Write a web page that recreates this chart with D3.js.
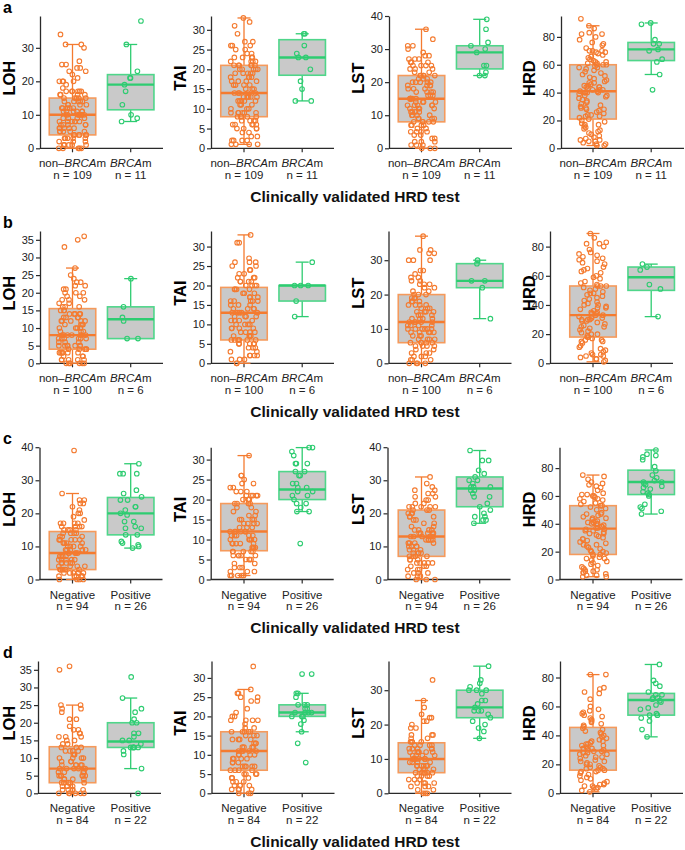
<!DOCTYPE html>
<html><head><meta charset="utf-8">
<script src="https://cdn.jsdelivr.net/npm/d3@7"></script>
<style>
body{margin:0;background:#fff;}
svg{display:block;font-family:"Liberation Sans",Arial,sans-serif;}
</style></head>
<body><svg id="chart" width="685" height="850"></svg>
<script>
// ---------- DATA ----------
const rowLetters = ["a","b","c","d"];
const metrics = ["LOH","TAI","LST","HRD"];
const groupsBRCA = ["non–BRCAm","BRCAm"];
const groupsTest = ["Negative","Positive"];
const nCounts = [[109,11],[100,6],[94,26],[84,22]];
const rowTitle = "Clinically validated HRD test";

// y axis maxima and tick steps per row (LOH, TAI, LST, HRD)
const yMax_a = [39.5,33.5,40,95],  yStep_a = [10,5,10,20];
const yMax_b = [37.5,34,38.5,90.7], yStep_b = [5,5,10,20];
const yMax_c = [40,33.1,40,95],    yStep_c = [10,5,10,20];
const yMax_d = [37.5,34.4,38.5,91.4], yStep_d = [5,5,10,20];

// box stats [q1, median, q3, whiskerLow, whiskerHigh] : [orange, green]
const box_a = [[[4,10,15,0,31],[11.5,19,22,8,31]],[[8,14,21,1,33],[18.5,23,27.5,12,29]],[[8,15,22,0,36],[24,29,31,22,39]],[[21,41,60,2,88],[63,71,76,53,90]]];
const box_b = [[[4,8,15.5,0,27],[7,12.5,16,7,24]],[[6,13,19.5,0,33],[16,20,20,12,26]],[[6,12,20,0,37],[22,24,29,13,30]],[[18,33,53,1,89],[50,59,66,32,68]]];
const box_c = [[[3,8,14.5,0,26],[13.5,20,24.8,9.5,35]],[[7.2,12,19,1,31],[20,22.5,27,17,33]],[[7,13,21,0,31],[22,27.5,31,17,39]],[[18,36.5,53,2,75],[61,70,78.5,47,93]]];
const box_d = [[[3,7,13.2,0,25],[13,14.7,20,7,27]],[[6,11,16,0,27],[20,21,23,16,26]],[[6,10,14.7,0,27],[22,25,30,16,37]],[[16,29.5,45.5,1,82],[54,64.5,69,39,89]]];

// row a points
const LOH_a_o = [0,0,0,0,0,1,1,1,1,1,2,2,2,3,3,3,3,3,4,4,4,4,4,4,5,5,5,5,5,6,6,6,6,6,7,7,7,7,7,8,8,8,8,8,8,9,9,9,9,10,10,10,10,10,10,11,11,11,11,11,11,12,12,12,12,12,13,13,13,13,14,14,14,14,14,15,15,15,15,15,16,16,16,16,17,17,17,17,17,17,18,19,20,20,20,20,21,22,23,23,24,24,25,25,26,30,31,31,34];
const LOH_a_g = [8,9,10,13,17,19,21,21,23,31,38];
const TAI_a_o = [1,1,1,1,2,2,2,2,3,3,4,4,5,5,5,5,6,6,6,6,6,7,7,7,7,8,8,8,8,8,9,9,9,9,9,9,10,10,10,11,11,11,12,12,12,12,12,13,13,13,13,13,14,14,14,14,14,15,15,15,16,16,16,16,17,17,17,17,18,18,18,18,19,19,19,19,19,20,20,20,20,20,21,21,21,21,21,21,22,22,22,22,23,23,23,23,24,24,25,25,26,26,26,27,27,29,31,32,33];
const TAI_a_g = [12,12,15,17,20,23,23,24,26,29,29];
const LST_a_o = [0,0,0,1,1,1,2,2,2,3,3,4,4,5,5,5,5,6,6,7,7,7,7,8,8,8,8,8,9,9,9,9,10,10,10,10,11,11,11,11,12,12,12,12,13,13,13,13,13,14,14,14,14,15,15,15,15,15,15,16,16,16,17,17,17,17,18,18,18,19,19,19,19,20,20,20,20,20,21,21,21,22,22,22,22,22,23,23,24,24,24,25,25,25,25,26,26,26,27,27,27,28,28,29,30,31,31,33,36];
const LST_a_g = [22,22,23,25,25,29,30,31,32,36,39];
const HRD_a_o = [2,2,3,3,4,5,5,6,6,7,8,9,10,11,12,13,14,15,16,17,17,18,19,20,21,22,23,23,24,24,25,26,27,28,28,29,29,30,31,32,33,34,35,36,37,38,38,39,40,40,40,40,41,41,42,42,42,43,44,44,44,45,45,46,47,47,48,49,50,51,52,53,54,55,56,57,58,58,59,60,60,60,61,61,62,62,63,64,65,66,67,68,69,69,70,70,70,72,74,75,76,78,80,82,82,83,86,88,93];
const HRD_a_g = [42,53,62,64,70,71,75,75,78,89,90];

// row b points
const LOH_b_o = [0,0,0,0,0,0,1,1,1,1,1,2,2,2,3,3,3,3,3,3,4,4,4,4,4,5,5,5,5,5,5,5,6,6,6,7,7,7,7,7,7,8,8,8,8,8,8,9,9,9,10,10,10,10,11,11,11,11,12,12,12,12,12,13,13,13,13,14,14,14,14,14,15,15,15,16,16,16,17,17,18,18,18,19,19,20,20,20,21,21,22,22,23,23,24,25,27,33,35,36];
const LOH_b_g = [7,7,12,13,16,24];
const TAI_b_o = [0,0,1,1,1,2,2,2,2,3,3,4,4,4,5,5,5,5,5,6,6,6,6,6,6,7,7,7,7,8,8,8,8,9,9,9,9,10,10,10,10,11,11,11,11,12,12,12,12,13,13,13,13,13,14,14,14,14,15,15,15,16,16,16,16,16,17,17,17,18,18,18,19,19,19,19,20,20,20,20,21,21,21,21,22,22,22,23,23,24,24,25,25,26,26,26,27,31,31,33];
const TAI_b_g = [12,16,20,20,20,26];
const LST_b_o = [0,0,0,0,1,1,1,2,2,2,3,3,3,4,4,5,5,5,5,6,6,6,6,6,7,7,7,7,8,8,8,9,9,9,9,9,10,10,10,10,10,10,11,11,11,11,12,12,12,12,12,13,13,13,13,14,14,14,15,15,15,15,16,16,16,17,17,17,17,18,18,18,19,19,19,20,20,20,21,21,22,22,23,23,23,24,24,25,25,26,27,27,30,30,30,32,32,33,33,37];
const LST_b_g = [13,22,24,24,29,30];
const HRD_b_o = [1,2,3,3,4,5,5,6,6,7,8,9,10,11,12,14,15,15,16,16,17,18,18,19,20,20,21,22,23,24,25,25,26,27,28,29,29,30,30,30,31,31,32,32,33,33,34,34,35,35,36,37,38,38,39,40,40,41,42,43,44,45,46,47,48,48,49,50,51,52,53,53,53,54,55,56,58,59,60,62,63,64,65,66,68,69,70,71,72,73,74,75,76,78,80,82,82,83,86,89];
const HRD_b_g = [32,51,54,64,66,68];

// row c points
const LOH_c_o = [0,0,0,0,1,1,1,1,1,2,2,2,2,2,2,3,3,3,3,3,3,3,4,4,4,4,5,5,5,5,5,6,6,6,6,6,7,7,7,7,8,8,8,8,8,9,9,9,9,9,10,10,10,10,11,11,11,11,12,12,12,12,12,13,13,13,14,14,14,14,15,15,15,15,16,16,16,16,17,17,17,17,18,19,20,20,21,22,23,23,24,24,26,39];
const LOH_c_g = [9.5,10,10.5,11,11.5,13.5,13.5,15.5,15.5,16,17.5,17.5,19.5,20,21,22,22,24,24,25,26,27,32,32,32,35];
const TAI_c_o = [1,1,1,1,1,2,2,2,3,3,3,4,4,5,5,5,5,6,6,6,6,6,7,7,7,7,7,8,8,8,8,8,9,9,9,9,9,10,10,10,10,10,11,11,11,11,11,12,12,12,12,12,12,13,13,13,14,14,14,14,15,15,15,15,16,16,17,17,18,18,19,19,19,19,20,20,20,20,21,21,21,21,21,22,22,22,23,23,24,24,25,26,26,31];
const TAI_c_g = [9,17,17,18,19,19,20,21,21,22,22,23,23,24,24,26,26,27,27,29,29,29,31,32,33,33];
const LST_c_o = [0,0,0,1,1,1,2,2,2,3,3,3,4,4,4,5,5,5,5,5,6,6,6,7,7,7,7,8,8,8,8,9,9,9,10,10,10,10,11,11,11,11,12,12,12,12,12,13,13,13,13,13,14,14,14,14,14,15,15,15,15,16,16,17,17,18,18,19,19,19,20,20,20,21,21,21,22,22,22,22,22,23,23,24,24,25,25,26,26,27,27,28,29,31];
const LST_c_g = [17,18,18,19,19,20,21,22,23,25,25,26,27,27,28,28,28,29,30,30,31,32,33,36,36,39];
const HRD_c_o = [2,2,3,3,4,5,5,6,6,7,7,8,9,10,11,12,13,14,15,15,16,17,18,18,19,20,20,21,22,23,24,25,25,26,27,28,29,29,30,31,32,33,33,34,35,35,36,36,37,37,38,38,39,40,40,40,41,41,42,42,43,44,44,45,46,47,47,48,50,51,52,53,53,54,55,56,57,58,58,59,60,60,61,61,62,64,66,67,68,69,70,72,74,75];
const HRD_c_g = [47,49,51,52,54,60,61,62,63,65,66,67,68,69,70,70,71,73,75,78,81,86,88,89,90,93];

// row d points
const LOH_d_o = [0,0,0,0,0,0,1,1,1,1,1,2,2,2,2,3,3,3,3,3,4,4,4,4,5,5,5,5,5,5,6,6,6,6,6,7,7,7,7,7,7,8,8,8,8,8,9,9,9,10,10,10,10,11,11,11,12,12,12,12,13,13,13,14,14,15,15,16,16,16,17,17,18,18,19,21,21,23,24,24,25,25,35,36];
const LOH_d_g = [0,7,11,12,13,13,13,13,13,14,15,15,16,17,17,20,20,21,23,24,27,33];
const TAI_d_o = [0,0,0,1,1,1,1,2,2,2,2,3,3,3,4,4,4,5,5,5,5,6,6,6,6,7,7,7,7,7,8,8,8,9,9,9,9,10,10,10,10,11,11,11,11,11,12,12,12,12,13,13,13,14,14,14,14,15,15,15,16,16,16,16,16,17,17,18,19,19,19,19,20,20,21,22,24,24,25,25,26,26,27,33];
const TAI_d_g = [8,13,16,18,19,20,20,20,21,21,21,21,22,22,23,23,23,25,26,26,31,31];
const LST_d_o = [0,0,0,1,1,2,2,2,3,3,3,3,4,4,4,5,5,5,5,6,6,6,6,6,6,7,7,7,7,8,8,8,8,8,8,9,9,9,9,10,10,10,10,10,10,11,11,11,11,12,12,12,12,12,12,13,13,13,13,13,14,14,14,14,15,15,15,15,16,16,17,17,17,19,19,20,21,21,22,22,23,25,27,33];
const LST_d_g = [16,18,19,20,21,22,23,24,24,24,25,26,27,27,29,30,30,30,31,32,33,37];
const HRD_d_o = [1,2,3,4,4,5,5,6,6,7,8,9,10,11,12,13,14,15,15,16,16,17,17,18,18,19,20,20,21,22,22,23,24,25,25,26,27,27,28,28,29,29,30,30,31,31,32,33,33,34,34,35,36,36,37,38,39,40,41,42,43,44,45,46,47,48,49,50,51,52,53,54,55,56,57,58,60,65,69,70,72,73,82,82];
const HRD_d_g = [39,44,50,52,54,54,55,58,59,61,63,64,65,66,66,68,68,70,74,76,78,89];

// ---------- ASSEMBLY ----------
const rowsData = [
  {letter:"a", groups:groupsBRCA, n:nCounts[0], yMax:yMax_a, yStep:yStep_a, box:box_a,
   pts:[[LOH_a_o,LOH_a_g],[TAI_a_o,TAI_a_g],[LST_a_o,LST_a_g],[HRD_a_o,HRD_a_g]]},
  {letter:"b", groups:groupsBRCA, n:nCounts[1], yMax:yMax_b, yStep:yStep_b, box:box_b,
   pts:[[LOH_b_o,LOH_b_g],[TAI_b_o,TAI_b_g],[LST_b_o,LST_b_g],[HRD_b_o,HRD_b_g]]},
  {letter:"c", groups:groupsTest, n:nCounts[2], yMax:yMax_c, yStep:yStep_c, box:box_c,
   pts:[[LOH_c_o,LOH_c_g],[TAI_c_o,TAI_c_g],[LST_c_o,LST_c_g],[HRD_c_o,HRD_c_g]]},
  {letter:"d", groups:groupsTest, n:nCounts[3], yMax:yMax_d, yStep:yStep_d, box:box_d,
   pts:[[LOH_d_o,LOH_d_g],[TAI_d_o,TAI_d_g],[LST_d_o,LST_d_g],[HRD_d_o,HRD_d_g]]}
];

// ---------- LAYOUT ----------
const rowBottom = [148.3,363.3,579.5,793.3];
const plotH = 132.3;
const panelX = [0,171.5,349,520.5];
const axisXs = [[40,211,389,561],[40,211,388.5,550],[39.5,210.7,387.5,559.5],[38,211.5,388.5,560]];
const catOffsets = [72.5,130.7];
const colors = ["#F47B30","#2ECC71"];
const boxStroke = ["#F59A5C","#4FD68A"];
const boxFill = "#C9C9C9";
const axisColor = "#2a2a2a";

const svg = d3.select("#chart");

rowsData.forEach((row, ri) => {
  const bottom = rowBottom[ri], top = bottom - plotH;
  const g = svg.append("g");

  // panel letter
  g.append("text").attr("x",3).attr("y",bottom-135.5)
    .attr("font-size",16).attr("font-weight","bold").attr("fill","#000").text(row.letter);

  // row title
  g.append("text").attr("x",355).attr("y",bottom+53.5).attr("text-anchor","middle")
    .attr("font-size",15.5).attr("font-weight","bold").attr("fill","#111").text(rowTitle);

  metrics.forEach((m, mi) => {
    const px = panelX[mi];
    const ax = axisXs[ri][mi];
    const pg = g.append("g");

    const y = d3.scaleLinear().domain([0, row.yMax[mi]]).range([bottom, top]);
    const x = d3.scalePoint().domain(row.groups).range([px+catOffsets[0], px+catOffsets[1]]);

    // y axis
    const ticks = d3.range(0, row.yMax[mi]+0.001, row.yStep[mi]);
    const yAxis = pg.append("g").attr("transform",`translate(${ax},0)`)
      .call(d3.axisLeft(y).tickValues(ticks).tickSize(4).tickSizeOuter(0).tickPadding(2));
    yAxis.select(".domain").attr("stroke",axisColor).attr("stroke-width",1.3);
    yAxis.selectAll(".tick line").attr("stroke",axisColor).attr("stroke-width",1.2);
    yAxis.selectAll(".tick text").attr("font-size",11).attr("fill","#222")
      .attr("font-family",'"Liberation Sans",Arial,sans-serif');

    // x axis
    const xEnd = Math.min(ax + 123, 684);
    pg.append("line").attr("x1",ax).attr("x2",xEnd).attr("y1",bottom).attr("y2",bottom)
      .attr("stroke",axisColor).attr("stroke-width",1.3);
    row.groups.forEach((grp, gi) => {
      const cx = x(grp);
      pg.append("line").attr("x1",cx).attr("x2",cx).attr("y1",bottom).attr("y2",bottom+4)
        .attr("stroke",axisColor).attr("stroke-width",1.2);
      const t = pg.append("text").attr("x",cx).attr("y",bottom+19).attr("text-anchor","middle")
        .attr("font-size",11.5).attr("fill","#222");
      if (grp.indexOf("BRCA") >= 0) {
        const pre = grp.replace("BRCAm","");
        if (pre) t.append("tspan").text(pre);
        t.append("tspan").attr("font-style","italic").text("BRCA");
        t.append("tspan").text("m");
      } else {
        t.text(grp);
      }
      pg.append("text").attr("x",cx).attr("y",bottom+30.5).attr("text-anchor","middle")
        .attr("font-size",11.5).attr("fill","#222").text("n = " + row.n[gi]);
    });

    // y label
    const ly = (top+bottom)/2 - 4;
    const lx = px + 8.5;
    pg.append("text").attr("transform",`translate(${lx},${ly}) rotate(-90)`)
      .attr("text-anchor","middle").attr("dominant-baseline","central")
      .attr("font-size",16.5).attr("font-weight","bold").attr("fill","#000").text(m);

    // boxes
    const bw = 46.5, cap = 13;
    row.groups.forEach((grp, gi) => {
      const [q1, med, q3, lo, hi] = row.box[mi][gi];
      const cx = x(grp);
      const col = colors[gi];
      pg.append("line").attr("x1",cx).attr("x2",cx).attr("y1",y(lo)).attr("y2",y(hi))
        .attr("stroke",col).attr("stroke-width",1.3);
      [lo, hi].forEach(v => pg.append("line").attr("x1",cx-cap/2).attr("x2",cx+cap/2)
        .attr("y1",y(v)).attr("y2",y(v)).attr("stroke",col).attr("stroke-width",1.3));
      pg.append("rect").attr("x",cx-bw/2).attr("width",bw).attr("y",y(q3)).attr("height",y(q1)-y(q3))
        .attr("fill",boxFill).attr("stroke",boxStroke[gi]).attr("stroke-width",1.6);
      pg.append("line").attr("x1",cx-bw/2).attr("x2",cx+bw/2).attr("y1",y(med)).attr("y2",y(med))
        .attr("stroke",col).attr("stroke-width",2.4);
    });

    // points (jittered horizontally, seeded)
    row.groups.forEach((grp, gi) => {
      const rnd = d3.randomUniform.source(d3.randomLcg(0.137 + ri*0.21 + mi*0.053 + gi*0.017))(-1, 1);
      const spread = gi === 0 ? 14 : 11;
      const cx = x(grp);
      pg.append("g").selectAll("circle").data(row.pts[mi][gi]).join("circle")
        .attr("cx", () => cx + rnd()*spread)
        .attr("cy", d => y(d))
        .attr("r", 2.3)
        .attr("fill","none")
        .attr("stroke", colors[gi])
        .attr("stroke-width", 1.1);
    });
  });
});
</script></body></html>
